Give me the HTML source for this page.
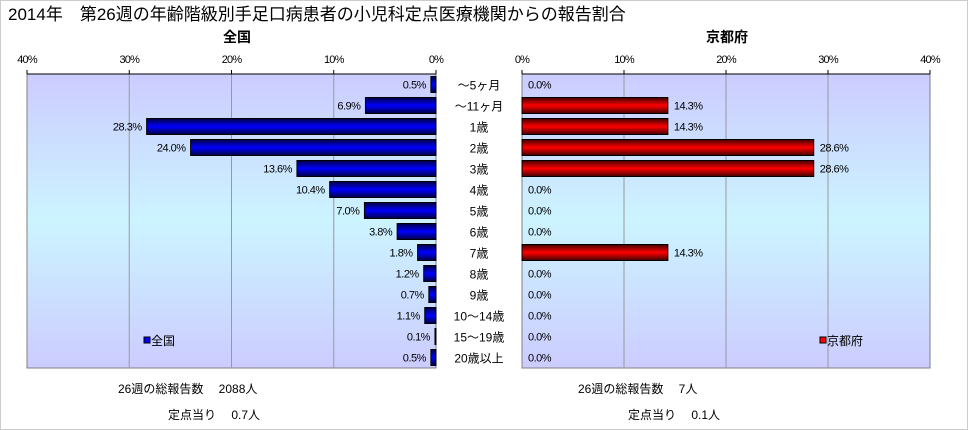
<!DOCTYPE html>
<html><head><meta charset="utf-8"><style>
body{margin:0;background:#fff;}
svg{display:block;font-family:"Liberation Sans","Noto Sans CJK JP",sans-serif;}
</style></head><body>
<svg id="c" width="968" height="430">
<defs>
<linearGradient id="bg" x1="0" y1="0" x2="0" y2="1">
<stop offset="0" stop-color="#ccccff"/><stop offset="0.5" stop-color="#ccf4ff"/><stop offset="1" stop-color="#ccccff"/>
</linearGradient>
<linearGradient id="gb" x1="0" y1="0" x2="0" y2="1">
<stop offset="0" stop-color="#000040"/><stop offset="0.5" stop-color="#0000ff"/><stop offset="1" stop-color="#000040"/>
</linearGradient>
<linearGradient id="gr" x1="0" y1="0" x2="0" y2="1">
<stop offset="0" stop-color="#400000"/><stop offset="0.5" stop-color="#ff0000"/><stop offset="1" stop-color="#400000"/>
</linearGradient>
</defs>
<rect x="0.5" y="0.5" width="967" height="429" fill="#fff" stroke="#ccc"/>
<text x="8" y="20" font-size="17" fill="#000">2014年　第26週の年齢階級別手足口病患者の小児科定点医療機関からの報告割合</text>
<text x="237" y="42" font-size="14" font-weight="bold" text-anchor="middle">全国</text>
<text x="727" y="42" font-size="14" font-weight="bold" text-anchor="middle">京都府</text>
<g id="plots"></g>
<text x="118" y="393" font-size="12">26週の総報告数　 2088人</text>
<text x="168" y="419" font-size="12">定点当り　 0.7人</text>
<text x="578" y="393" font-size="12">26週の総報告数　 7人</text>
<text x="628" y="419" font-size="12">定点当り　 0.1人</text>
</svg>
<script>
const categories=["～5ヶ月","～11ヶ月","1歳","2歳","3歳","4歳","5歳","6歳","7歳","8歳","9歳","10～14歳","15～19歳","20歳以上"];
const nationalValues=[0.5,6.9,28.3,24.0,13.6,10.4,7.0,3.8,1.8,1.2,0.7,1.1,0.1,0.5];
const kyotoValues=[0,14.3,14.3,28.6,28.6,0,0,0,14.3,0,0,0,0,0];
const tickValues=[0,10,20,30,40];
const NS="http://www.w3.org/2000/svg";
const g=document.getElementById('plots');
const top0=74,bot=368,rowH=(bot-top0)/categories.length;
function mk(t,a){const e=document.createElementNS(NS,t);for(const k in a)e.setAttribute(k,a[k]);g.appendChild(e);return e;}
function yRow(i){return top0+rowH*i;}
function panel(x0,x1,dir,vals,fill,key,legendX,legendLabel,legendColor){
  const w=x1-x0;
  const zero=dir<0?x1:x0;
  const sx=v=>zero+dir*v/40*w;
  const bg=mk('rect',{x:x0,y:top0,width:w,height:bot-top0,fill:'url(#bg)',stroke:'#808080'});
  
  
  tickValues.forEach(t=>{
    const x=sx(t);
    if(t>0&&t<40){const l=mk('line',{x1:x,x2:x,y1:top0,y2:bot,stroke:'#999'});
      
      }
    const tk=mk('line',{x1:x,x2:x,y1:top0-4,y2:top0,stroke:'#000'});
    
    
    const tx=mk('text',{x:x,y:63,'font-size':11,'text-anchor':'middle','letter-spacing':'-0.8'});
    tx.textContent=t+'%';
    
    
  });
  mk('line',{x1:x0,x2:x1,y1:top0,y2:top0,stroke:'#000'});
  vals.forEach((v,i)=>{
    const yc=yRow(i)+rowH/2;
    const xe=sx(v);
    if(v>0){const b=mk('rect',{x:Math.min(zero,xe),y:yc-8,width:Math.abs(xe-zero),height:16,fill:fill,stroke:'#000','stroke-width':1});
      
      }
    const lab=mk('text',{x:dir<0?xe-5:xe+(v>0?6:6),y:yc+4,'font-size':11,'text-anchor':dir<0?'end':'start','letter-spacing':'-0.5'});
    lab.textContent=v.toFixed(1)+'%';
    
    
  });
  const lm=mk('rect',{x:legendX,y:337,width:6,height:6,fill:legendColor,stroke:'#000'});
  
  
  const lt=mk('text',{x:legendX+7,y:345,'font-size':12});
  lt.textContent=legendLabel;
  
  
}
panel(27,436,-1,nationalValues,'url(#gb)','national',144,'全国','#0000ff');
panel(522,930,1,kyotoValues,'url(#gr)','kyoto',820,'京都府','#ff0000');
categories.forEach((c,i)=>{
  const t=mk('text',{x:479,y:yRow(i)+rowH/2+5,'font-size':12,'text-anchor':'middle'});
  t.textContent=c;
  
  
});
</script>
</body></html>
